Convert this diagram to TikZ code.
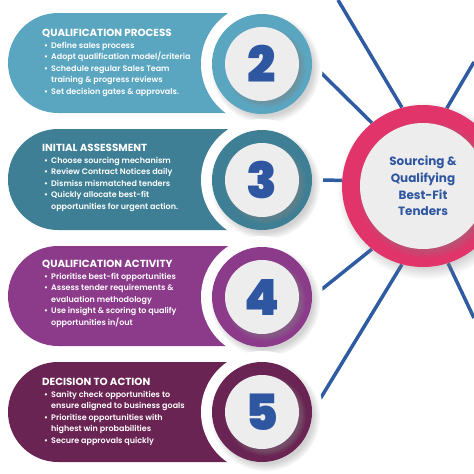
\documentclass[tikz,border=0pt]{standalone}
\usepackage{fontspec}
\setmainfont{Poppins}[UprightFont=* SemiBold, BoldFont=* Bold]
\newfontfamily\numfont{Poppins}[UprightFont=* Black]
\usetikzlibrary{positioning,shadows,backgrounds}

\definecolor{tealA}{HTML}{5AA6C1}
\definecolor{tealB}{HTML}{3E7F95}
\definecolor{plumA}{HTML}{8C3B8B}
\definecolor{plumB}{HTML}{6A2453}
\definecolor{numblue}{HTML}{2F56A0}
\definecolor{hubpink}{HTML}{E1346B}
\definecolor{facegrey}{HTML}{EDEDED}
\definecolor{linkblue}{HTML}{2F5BA2}

\newcommand{\blt}{\hspace*{2pt}\makebox[7pt][l]{\textbullet}}
\newcommand{\hng}{\hspace*{9pt}}
\newcommand{\ttl}[1]{{\bfseries\fontsize{10.3}{11.6}\selectfont #1}}

\begin{document}
\begin{tikzpicture}[x=1pt, y=-1pt,
    band/.style={rounded corners=50pt},
    gap/.style={circle, fill=white, minimum size=122pt, inner sep=0pt},
    ring/.style={circle, minimum size=100pt, inner sep=0pt,
      circular drop shadow={shadow xshift=3pt, shadow yshift=-4pt, opacity=0.35}},
    face/.style={circle, fill=facegrey, minimum size=74pt, inner sep=0pt,
      text=numblue, font=\numfont\fontsize{50}{50}\selectfont,
      circular drop shadow={shadow xshift=3pt, shadow yshift=-3pt, opacity=0.45}},
    info/.style={anchor=north west, inner sep=0pt, align=left, text=white,
      font=\fontsize{8}{11.6}\selectfont},
    link/.style={draw=linkblue, line width=3.5pt}
  ]
  \useasboundingbox (0,0) rectangle (474,474);
  \clip (0,0) rectangle (474,474);

  % coloured bands
  \fill[tealA, band] (262,13) -- (8,13) -- (8,113) -- (262,113);
  \fill[tealB, band] (262,129) -- (8,129) -- (8,230) -- (262,230);
  \fill[plumA, band] (262,246) -- (8,246) -- (8,346) -- (262,346);
  \fill[plumB, band] (262,362) -- (8,362) -- (8,462) -- (262,462);

  % band texts
  \node[info] (txt2) at (42,29) {\ttl{QUALIFICATION PROCESS}\\
    \blt Define sales process\\
    \blt Adopt qualification model/criteria\\
    \blt Schedule regular Sales Team\\
    \hng training \& progress reviews\\
    \blt Set decision gates \& approvals.};
  \node[info] (txt3) at (42,144) {\ttl{INITIAL ASSESSMENT}\\
    \blt Choose sourcing mechanism\\
    \blt Review Contract Notices daily\\
    \blt Dismiss mismatched tenders\\
    \blt Quickly allocate best-fit\\
    \hng opportunities for urgent action.};
  \node[info] (txt4) at (42,260) {\ttl{QUALIFICATION ACTIVITY}\\
    \blt Prioritise best-fit opportunities\\
    \blt Assess tender requirements \&\\
    \hng evaluation methodology\\
    \blt Use insight \& scoring to qualify\\
    \hng opportunities in/out};
  \node[info] (txt5) at (42,378) {\ttl{DECISION TO ACTION}\\
    \blt Sanity check opportunities to\\
    \hng ensure aligned to business goals\\
    \blt Prioritise opportunities with\\
    \hng highest win probabilities\\
    \blt Secure approvals quickly};

  % number discs
  \node[gap] (gap2) at (262,64) {};
  \node[ring, fill=tealA] (ring2) at (262,64) {};
  \node[face] (face2) at (262,64) {2};
  \node[gap] (gap3) at (262,180) {};
  \node[ring, fill=tealB] (ring3) at (262,180) {};
  \node[face] (face3) at (262,180) {3};
  \node[gap] (gap4) at (262,297) {};
  \node[ring, fill=plumA] (ring4) at (262,297) {};
  \node[face] (face4) at (262,297) {4};
  \node[gap] (gap5) at (262,412) {};
  \node[ring, fill=plumB] (ring5) at (262,412) {};
  \node[face] (face5) at (262,412) {5};

  % hub
  \node[circle, fill=hubpink, minimum size=162pt, inner sep=0pt,
    circular drop shadow={shadow xshift=3pt, shadow yshift=-4pt, opacity=0.35}] (hub) at (423,186) {};
  \node[circle, fill=facegrey, minimum size=126pt, inner sep=0pt, align=center,
    text=numblue, font=\bfseries\fontsize{12}{16.6}\selectfont,
    circular drop shadow={shadow xshift=3pt, shadow yshift=-3pt, opacity=0.4}] (hubface) at (423,186)
    {Sourcing \&\\Qualifying\\Best-Fit\\Tenders};

  \coordinate (topend) at (338,0);
  \coordinate (nend) at (474,62);
  \coordinate (send) at (474,318);

  \begin{scope}[on background layer]
    \draw[link] (ring2.east) -- (hub.129);
    \draw[link] (ring3.east) -- (hub.176);
    \draw[link] (ring4.east) -- (hub.231);
    \draw[link] (ring5.east) -- (hub.255);
    \draw[link] (hub.105) -- (topend);
    \draw[link] (hub.73) -- (nend);
    \draw[link] (hub.288) -- (send);
  \end{scope}
\end{tikzpicture}
\end{document}
